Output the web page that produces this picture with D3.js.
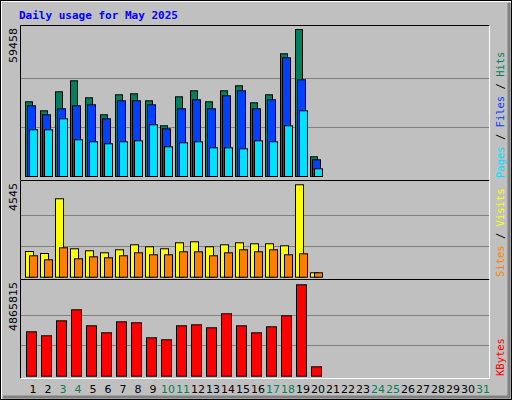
<!DOCTYPE html>
<html><head><meta charset="utf-8">
<script src="https://cdn.jsdelivr.net/npm/d3@7"></script>
<style>body{margin:0;background:#fff}</style>
</head><body>
<script>
const days = d3.range(1, 32);
const weekend = [3, 4, 10, 11, 17, 18, 24, 25, 31];
const hits = [30215,26575,34260,38710,31834,24957,33047,33451,30620,20508,32238,34665,30215,34665,36687,29811,33047,49632,59458,7969];
const files = [28598,24958,27385,28598,29003,23340,30620,30620,29003,19295,27385,31025,27385,32643,34665,27385,31025,48014,39115,6755];
const pages = [18890,18890,23340,14845,14036,13227,14036,14441,20913,12014,13632,14036,11609,11609,11205,14441,14036,20508,26575,3115];
const visits = [1264,1166,3857,1397,1299,1200,1348,1594,1495,1397,1692,1741,1495,1594,1692,1643,1643,1545,4545,216];
const sites = [1053,856,1446,905,1003,954,1053,1200,1102,1102,1249,1249,1053,1200,1348,1249,1348,1102,1151,216];
const kbytes = [2364000,2151000,2949000,3535000,2683000,2310000,2896000,2843000,2044000,1938000,2683000,2736000,2577000,3322000,2683000,2310000,2630000,3215000,4865815,500000];

const svg = d3.select("body").append("svg").attr("width", 512).attr("height", 400)
  .style("font-family", "DejaVu Sans Mono");
svg.append("rect").attr("width", 512).attr("height", 400).attr("fill", "#c0c0c0");
// outer frame
svg.append("path").attr("d", "M1,399V1H511").attr("stroke", "#fff").attr("stroke-width", 2).attr("fill", "none");
svg.append("path").attr("d", "M3,397H509V3").attr("stroke", "#808080").attr("stroke-width", 3).attr("fill", "none");
svg.append("rect").attr("x", 0.5).attr("y", 0.5).attr("width", 511).attr("height", 399).attr("fill", "none").attr("stroke", "#000");

svg.append("text").attr("x", 19).attr("y", 19).attr("fill", "#0000ff")
  .attr("font-size", 11).attr("font-weight", "bold").text("Daily usage for May 2025");

const x = d3.scaleLinear().domain([1, 31]).range([25, 475]);

function panel(y0, y1, base, top, max, label, series, legend) {
  svg.append("rect").attr("x", 20.5).attr("y", y0 + 0.5).attr("width", 469).attr("height", y1 - y0)
    .attr("fill", "#c0c0c0");
  const y = d3.scaleLinear().domain([0, max]).range([base, top]);
  [1 / 3, 2 / 3].forEach(f => {
    const gy = Math.round(base - (base - top) * f) + 0.5;
    svg.append("line").attr("x1", 21).attr("x2", 489).attr("y1", gy).attr("y2", gy).attr("stroke", "#808080");
  });
  series.forEach(s => {
    svg.append("g").selectAll("rect").data(s.values).join("rect")
      .attr("x", (d, i) => x(i + 1) + s.off + 0.5)
      .attr("y", d => y(d) + 0.5)
      .attr("width", s.w)
      .attr("height", d => base - y(d))
      .attr("fill", s.color).attr("stroke", "#000");
  });
  svg.append("path").attr("d", `M20.5,${y1 + 0.5}V${y0 + 0.5}H489.5`).attr("stroke", "#000").attr("fill", "none");
  svg.append("path").attr("d", `M20.5,${y1 + 0.5}H489.5V${y0 + 0.5}`).attr("stroke", "#fff").attr("fill", "none");
  svg.append("text").attr("transform", `translate(17,${y0 + 3}) rotate(-90)`).attr("text-anchor", "end")
    .attr("font-family", "DejaVu Sans").attr("font-size", 11).attr("fill", "#000").text(label);
  const t = svg.append("text").attr("transform", `translate(504,${y1 - 2}) rotate(-90)`)
    .attr("font-size", 10.5);
  legend.forEach((l, i) => {
    if (i) t.append("tspan").attr("fill", "#000").text(" / ");
    t.append("tspan").attr("fill", l[1]).text(l[0]);
  });
}

panel(25, 180, 176, 29, 59458, "59458", [
  { values: hits, color: "#00805c", off: 0, w: 7 },
  { values: files, color: "#0040ff", off: 2, w: 8 },
  { values: pages, color: "#00e0ff", off: 4, w: 8 }
], [["Pages", "#00e0ff"], ["Files", "#0040ff"], ["Hits", "#00805c"]]);

panel(180, 279, 276.7, 184.3, 4545, "4545", [
  { values: visits, color: "#ffff00", off: 0, w: 8 },
  { values: sites, color: "#ff8000", off: 4, w: 8 }
], [["Sites", "#ff8000"], ["Visits", "#ffff00"]]);

panel(279, 378, 375.7, 284.3, 4865815, "4865815", [
  { values: kbytes, color: "#ff0000", off: 1, w: 10 }
], [["KBytes", "#ff0000"]]);

svg.append("g").selectAll("text").data(days).join("text")
  .attr("x", d => x(d) + 8).attr("y", 393).attr("text-anchor", "middle")
  .attr("font-family", "DejaVu Sans").attr("font-size", 11)
  .attr("fill", d => weekend.includes(d) ? "#00805c" : "#000")
  .text(d => d);
</script>
</body></html>
